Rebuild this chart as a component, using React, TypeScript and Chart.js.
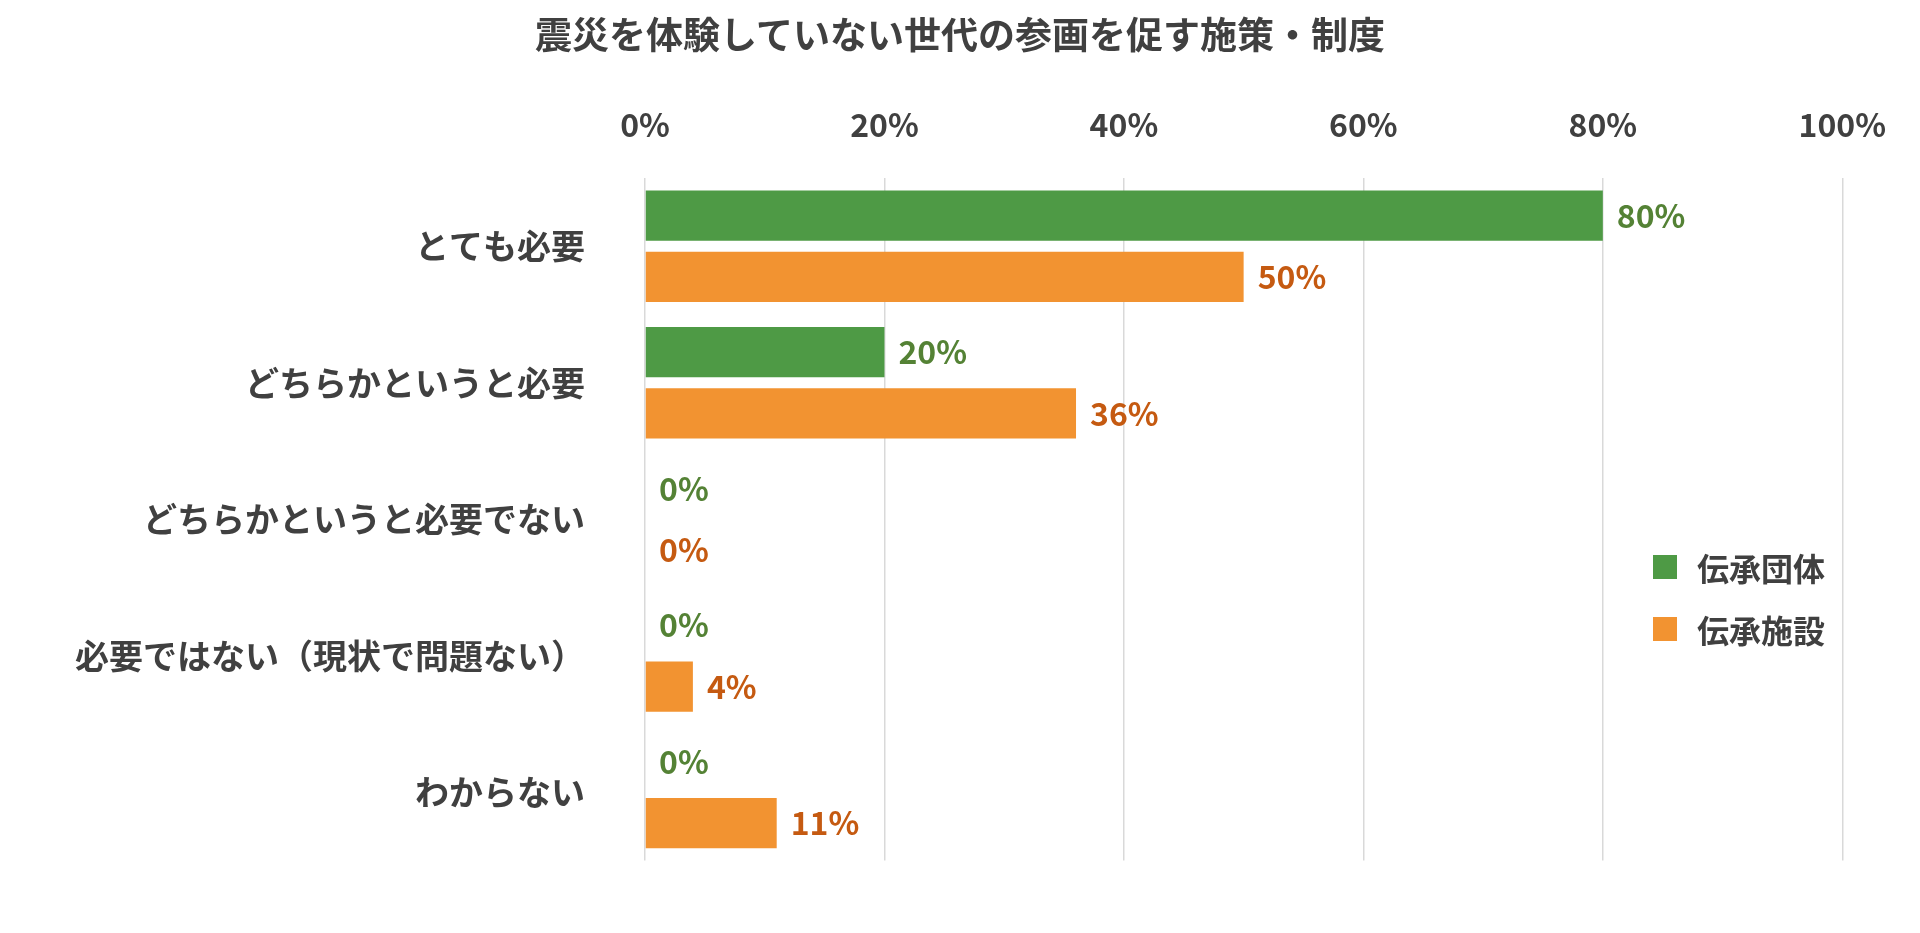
import React, { useEffect, useRef } from "react";
import { Chart, registerables } from "chart.js";
Chart.register(...registerables);

const categories = ["とても必要", "どちらかというと必要", "どちらかというと必要でない", "必要ではない（現状で問題ない）", "わからない"];
const seriesNames = ["伝承団体", "伝承施設"];
const groupValues = [80, 20, 0, 0, 0];
const facilityValues = [50, 36, 0, 4, 11];
const tickValues = [0, 20, 40, 60, 80, 100];

const barColors = ["#4E9A45", "#F29331"];
const labelColors = ["#548235", "#C55A11"];
const FONT = "'Noto Sans CJK JP', 'Noto Sans', sans-serif";

export default function App() {
  const ref = useRef<HTMLCanvasElement>(null);
  useEffect(() => {
    document.body.style.margin = "0";
    const labelPlugin = {
      id: "vlabels",
      afterDatasetsDraw(chart: any) {
        const ctx = chart.ctx;
        ctx.save();
        ctx.font = `bold 32px ${FONT}`;
        ctx.textBaseline = "middle";
        ctx.textAlign = "left";
        chart.data.datasets.forEach((ds: any, i: number) => {
          chart.getDatasetMeta(i).data.forEach((bar: any, j: number) => {
            ctx.fillStyle = labelColors[i];
            ctx.fillText(ds.data[j] + "%", bar.x + 14, bar.y);
          });
        });
        ctx.restore();
      },
    };
    const chart = new Chart(ref.current!, {
      type: "bar",
      data: {
        labels: categories,
        datasets: [
          { label: seriesNames[0], data: groupValues, backgroundColor: barColors[0] },
          { label: seriesNames[1], data: facilityValues, backgroundColor: barColors[1] },
        ],
      },
      options: {
        indexAxis: "y",
        animation: false,
        responsive: false,
        layout: { padding: { top: 108, right: 48, left: 0, bottom: -34 } },
        datasets: { bar: { categoryPercentage: 0.9, barPercentage: 0.818 } } as any,
        plugins: { legend: { display: false }, tooltip: { enabled: false }, title: { display: false } },
        scales: {
          x: {
            position: "top",
            min: 0,
            max: 100,
            afterBuildTicks: (s: any) => { s.ticks = tickValues.map((v) => ({ value: v })); },
            afterFit: (s: any) => { s.height = 70; },
            grid: { color: "#D9D9D9", drawTicks: false, lineWidth: 1.5 },
            border: { display: false },
            ticks: { padding: 34, color: "#404040", font: { family: FONT, size: 32, weight: "bold" }, callback: (v: any) => v + "%" },
          },
          y: {
            afterFit: (s: any) => { s.width = 645; },
            grid: { display: false },
            border: { display: false },
            ticks: { padding: 52, color: "#404040", font: { family: FONT, size: 34, weight: "bold" } },
          },
        },
      },
      plugins: [labelPlugin],
    });
    return () => chart.destroy();
  }, []);
  return (
    <div style={{ position: "relative", width: 1920, height: 933, background: "#fff", fontFamily: FONT }}>
      <canvas ref={ref} width={1920} height={933} />
      <div style={{ position: "absolute", top: 6, left: 0, width: 1920, textAlign: "center", fontWeight: "bold", fontSize: 37, color: "#404040" }}>
        震災を体験していない世代の参画を促す施策・制度
      </div>
      <div style={{ position: "absolute", left: 1653, top: 536, fontSize: 32, fontWeight: "bold", color: "#404040" }}>
        {seriesNames.map((n, i) => (
          <div key={n} style={{ display: "flex", alignItems: "center", height: 62 }}>
            <span style={{ width: 24, height: 24, background: barColors[i], marginRight: 20, display: "inline-block" }} />
            {n}
          </div>
        ))}
      </div>
    </div>
  );
}
